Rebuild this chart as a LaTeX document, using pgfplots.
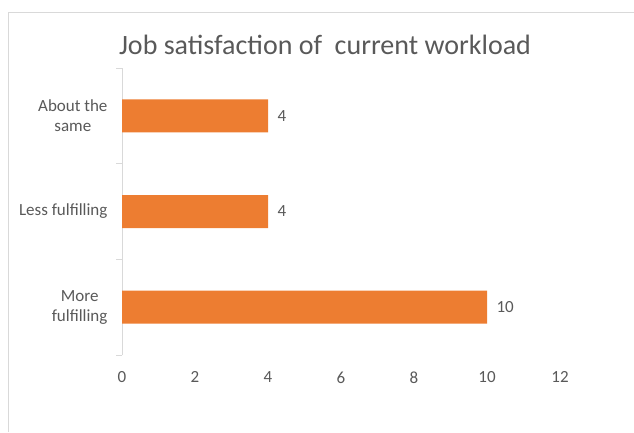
\documentclass[border=0pt]{standalone}
\usepackage{pgfplots}
\pgfplotsset{compat=1.18}
\usepackage{fontspec}
\setmainfont{Carlito}
\definecolor{barorange}{HTML}{ED7D31}
\definecolor{txtgray}{HTML}{595959}
\definecolor{linegray}{HTML}{D9D9D9}
\begin{document}
\begin{tikzpicture}[x=1pt,y=1pt]
\useasboundingbox (0,0) rectangle (634,-432);
\draw[linegray,line width=1pt] (8,-432) -- (8,-12) -- (634,-12);
\node[txtgray,font=\fontsize{28}{32}\selectfont] at (325,-45) {Job satisfaction of\ \ current workload};
\begin{axis}[
  at={(122pt,-355pt)}, anchor=south west,
  scale only axis, width=438pt, height=287pt,
  xmin=0, xmax=12, ymin=-0.5, ymax=2.5,
  xtick={0,2,4,6,8,10,12},
  ytick={0,1,2},
  yticklabels={More\\fulfilling,Less fulfilling,About the\\same},
  minor ytick={-0.5,0.5,1.5,2.5},
  axis x line=none,
  axis y line*=left,
  y axis line style={linegray,line width=0.8pt,-},
  major tick length=0pt,
  minor tick length=6pt,
  tick align=outside,
  minor tick style={linegray,line width=0.8pt},
  hide x axis,
  xbar, bar width=33pt,
  nodes near coords,
  nodes near coords style={txtgray,font=\fontsize{17}{19}\selectfont,xshift=6pt},
  yticklabel style={txtgray,font=\fontsize{17}{20}\selectfont,align=center,xshift=-11pt},
  /pgf/number format/assume math mode=true,
]
\addplot[fill=barorange,draw=none] coordinates {(10,0) (4,1) (4,2)};
\end{axis}
\begin{axis}[
  at={(122pt,-355pt)}, anchor=south west,
  scale only axis, width=438pt, height=287pt,
  xmin=0, xmax=12, ymin=0, ymax=1,
  xtick={0,2,4,6,8,10,12},
  axis y line=none,
  axis x line*=bottom,
  x axis line style={draw=none},
  major tick length=0pt,
  xticklabel style={txtgray,font=\fontsize{17}{19}\selectfont,yshift=-13pt},
  /pgf/number format/assume math mode=true,
]
\end{axis}
\end{tikzpicture}
\end{document}
